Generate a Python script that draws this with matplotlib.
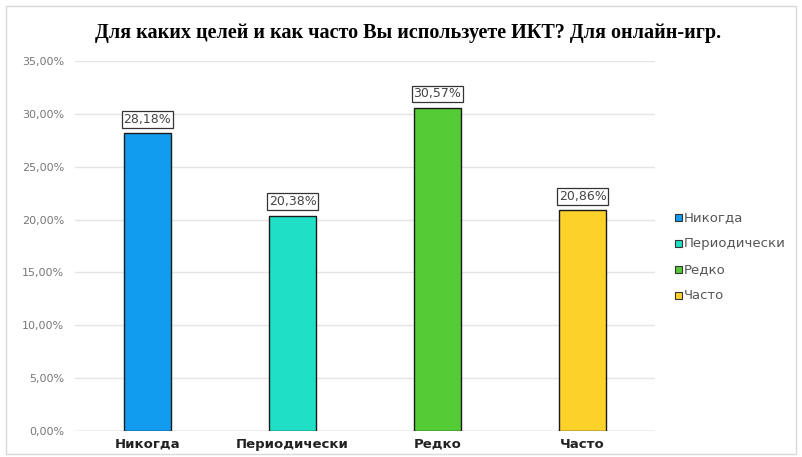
import numpy as np
import matplotlib.pyplot as plt
from matplotlib.patches import Rectangle

categories = ['Никогда', 'Периодически', 'Редко', 'Часто']
values = [28.18, 20.38, 30.57, 20.86]
colors = ['#129cf0', '#1fe0c6', '#55cc35', '#fcd22a']
yticks = [0, 5, 10, 15, 20, 25, 30, 35]

fig = plt.figure(figsize=(8.02, 4.57), dpi=100)
fig.patches.append(Rectangle((0.008, 0.006), 0.985, 0.98, transform=fig.transFigure,
                             fill=False, edgecolor='#d8d8d8', lw=1))
ax = fig.add_axes([75 / 802, 1 - 431 / 457, 580 / 802, 370 / 457])

x = np.arange(len(categories))
bars = ax.bar(x, values, width=0.33, color=colors, edgecolor='#1a1a1a', linewidth=1, zorder=3)
for xi, v in zip(x, values):
    ax.text(xi, v + 0.7, f'{v:.2f}%'.replace('.', ','), ha='center', va='bottom',
            fontsize=9, color='#444444', family='DejaVu Sans',
            bbox=dict(boxstyle='square,pad=0.15', fc='white', ec='#333333', lw=0.9))

ax.set_xlim(-0.5, 3.5)
ax.set_ylim(0, 35)
ax.set_yticks(yticks)
ax.set_yticklabels([f'{t:.2f}%'.replace('.', ',') for t in yticks], color='#777777', fontsize=8)
ax.set_xticks(x)
ax.set_xticklabels(categories, fontweight='bold', fontsize=9.5, color='#222222', va='baseline')
ax.tick_params(axis='x', length=0, pad=12)
ax.tick_params(axis='y', length=0, pad=8)
ax.grid(axis='y', color='#e4e4e4', lw=1, zorder=0)
for s in ax.spines.values():
    s.set_visible(False)
ax.axhline(0, color='#cccccc', lw=1, zorder=2)

fig.text(408 / 802, 1 - 33 / 457, 'Для каких целей и как часто Вы используете ИКТ? Для онлайн-игр.',
         ha='center', va='center', fontsize=14.5, fontweight='bold', family='Liberation Serif')

for i, (c, col) in enumerate(zip(categories, colors)):
    yy = 1 - (216 + i * 26) / 457
    fig.patches.append(Rectangle((675 / 802, yy - 0.011), 7 / 802, 7 / 457,
                                 transform=fig.transFigure, fc=col, ec='#333333', lw=0.8))
    fig.text(684 / 802, yy - 0.003, c, fontsize=9.5, color='#555555', va='center')

fig.savefig('out.png', dpi=100)
